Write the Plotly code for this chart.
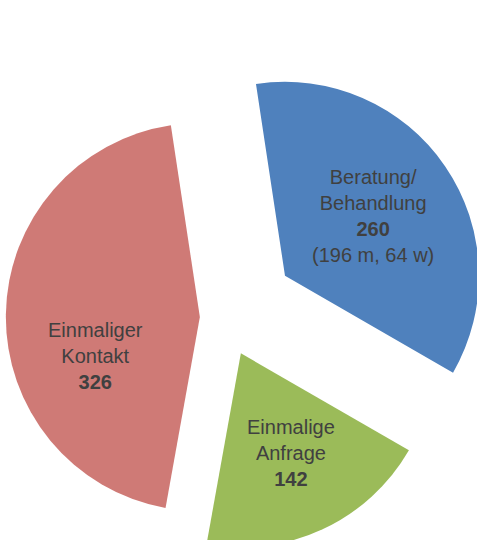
import math
import plotly.graph_objects as go

# ---- data ----
CATEGORIES = ["Beratung/<br>Behandlung", "Einmalige<br>Anfrage", "Einmaliger<br>Kontakt"]
VALUES = [260, 142, 326]
DETAILS = ["(196 m, 64 w)", "", ""]

# ---- style ----
COLORS = ["#4F81BD", "#9BBB59", "#CF7A76"]
ROTATION = -8.6            # start angle of first slice (clockwise from 12 o'clock)
PULLS = [0.38, 0.205, 0.125]
CENTER_PX = (224.1, 317.3)
R_PX = 194
FIG_W, FIG_H = 500, 570
LABEL_R = [0.55, 0.576, 0.573]
LABEL_DA = [0.0, -1.6, -21.5]
FONT = dict(family="Liberation Sans, Arial, sans-serif", size=20, color="#404040")

total = sum(VALUES)
fig = go.Figure()
annotations = []
cum = 0.0
for i, v in enumerate(VALUES):
    mid = ROTATION + (cum + v / 2.0) / total * 360.0
    cum += v
    t = math.radians(mid)
    ax = CENTER_PX[0] + PULLS[i] * R_PX * math.sin(t)
    ay = CENTER_PX[1] - PULLS[i] * R_PX * math.cos(t)
    colors = [COLORS[j] if j == i else "rgba(0,0,0,0)" for j in range(len(VALUES))]
    fig.add_trace(go.Pie(
        values=VALUES,
        labels=[c.replace("<br>", " ") for c in CATEGORIES],
        sort=False,
        direction="clockwise",
        rotation=ROTATION,
        marker=dict(colors=colors, line=dict(width=0)),
        textinfo="none",
        hoverinfo="skip",
        showlegend=False,
        domain=dict(x=[(ax - R_PX) / FIG_W, (ax + R_PX) / FIG_W],
                    y=[1 - (ay + R_PX) / FIG_H, 1 - (ay - R_PX) / FIG_H]),
    ))
    lt = math.radians(mid + LABEL_DA[i])
    lx = ax + LABEL_R[i] * R_PX * math.sin(lt)
    ly = ay - LABEL_R[i] * R_PX * math.cos(lt)
    text = f"{CATEGORIES[i]}<br><b>{v}</b>"
    if DETAILS[i]:
        text += f"<br>{DETAILS[i]}"
    annotations.append(dict(
        x=lx / FIG_W, y=1 - ly / FIG_H, xref="paper", yref="paper",
        text=text, showarrow=False, xanchor="center", yanchor="middle",
        align="center", font=FONT,
    ))

fig.update_layout(
    width=FIG_W, height=FIG_H,
    margin=dict(l=0, r=0, t=0, b=0),
    paper_bgcolor="white", plot_bgcolor="white",
    annotations=annotations,
)
fig.write_html(
    "out.html",
    config={"displayModeBar": False},
    post_script="document.body.style.margin='0';"
                "document.body.style.overflow='hidden';"
                "document.documentElement.style.overflow='hidden';",
)
